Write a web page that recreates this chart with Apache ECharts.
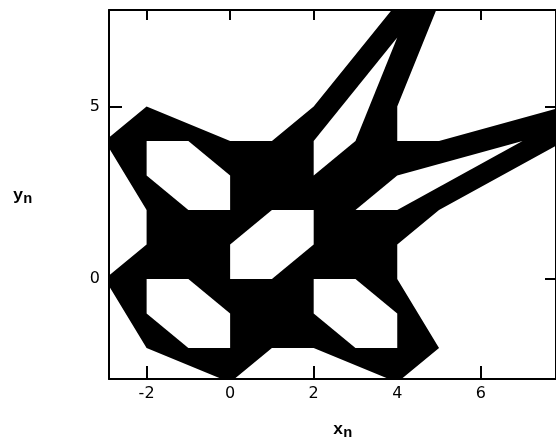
<!DOCTYPE html>
<html>
<head>
<meta charset="utf-8">
<script src="https://cdn.jsdelivr.net/npm/echarts@6/dist/echarts.min.js"></script>
<style>
  html, body { margin: 0; padding: 0; background: #fff; }
  #chart { width: 556px; height: 440px; }
</style>
</head>
<body>
<div id="chart"></div>
<script>
// Orbit region of the map (x_n, y_n): the filled region and the islands it never visits.
const outerBoundary = [
  [0, -3], [1, -2], [2, -2], [4, -3], [5, -2], [4, 0], [4, 1], [5, 2], [8, 4],
  [8, 5], [5, 4], [4, 4], [4, 5], [5, 8],
  [4, 8], [2, 5], [1, 4], [0, 4], [-2, 5], [-3, 4], [-2, 2], [-2, 1], [-3, 0],
  [-2, -2]
];
const islandCentre = [[0, 0], [0, 1], [1, 2], [2, 2], [2, 1], [1, 0]];
const islandUpperLeft = [[-2, 3], [-2, 4], [-1, 4], [0, 3], [0, 2], [-1, 2]];
const islandLowerLeft = [[-2, 0], [-1, 0], [0, -1], [0, -2], [-1, -2], [-2, -1]];
const islandLowerRight = [[3, -2], [4, -2], [4, -1], [3, 0], [2, 0], [2, -1]];
const islandUpperArm = [[2, 3], [3, 4], [4, 7], [2, 4]];
const islandRightArm = [[3, 2], [4, 3], [7, 4], [4, 2]];

const xTicks = [-2, 0, 2, 4, 6];
const yTicks = [0, 5];
const axisRange = { min: -2.9, max: 7.8 };

const shapes = [
  { pts: outerBoundary, fill: '#000' },
  { pts: islandCentre, fill: '#fff' },
  { pts: islandUpperLeft, fill: '#fff' },
  { pts: islandLowerLeft, fill: '#fff' },
  { pts: islandLowerRight, fill: '#fff' },
  { pts: islandUpperArm, fill: '#fff' },
  { pts: islandRightArm, fill: '#fff' }
];

const chart = echarts.init(document.getElementById('chart'), null, { renderer: 'canvas' });

const lineStyle = { color: '#000', width: 2 };
const labelFont = { color: '#000', fontSize: 16, fontFamily: 'DejaVu Sans' };

function xAxisCfg(pos, showLabels, tickLen) {
  return {
    type: 'value', position: pos, min: axisRange.min, max: axisRange.max,
    axisLine: { show: true, onZero: false, lineStyle },
    axisTick: { show: true, inside: true, length: tickLen, lineStyle, customValues: xTicks },
    axisLabel: { show: showLabels, margin: 7, customValues: xTicks, ...labelFont },
    splitLine: { show: false }
  };
}
function yAxisCfg(pos, showLabels, tickLen) {
  return {
    type: 'value', position: pos, min: axisRange.min, max: axisRange.max,
    axisLine: { show: true, onZero: false, lineStyle },
    axisTick: { show: true, inside: true, length: tickLen, lineStyle, customValues: yTicks },
    axisLabel: { show: showLabels, margin: 9, customValues: yTicks, ...labelFont },
    splitLine: { show: false }
  };
}

chart.setOption({
  animation: false,
  backgroundColor: '#fff',
  grid: { left: 109, top: 10, width: 451, height: 369 },
  xAxis: [xAxisCfg('bottom', true, 13), xAxisCfg('top', false, 10)],
  yAxis: [yAxisCfg('left', true, 13), yAxisCfg('right', false, 11)],
  series: shapes.map((s, i) => ({
    type: 'custom',
    coordinateSystem: 'cartesian2d',
    xAxisIndex: 0,
    yAxisIndex: 0,
    clip: true,
    z: 1 + i,
    silent: true,
    data: s.pts,
    renderItem: (params, api) => {
      if (params.dataIndex !== 0) return;
      return {
        type: 'polygon',
        shape: { points: s.pts.map(p => api.coord(p)) },
        style: { fill: s.fill, stroke: null }
      };
    }
  })),
  graphic: [
    {
      type: 'text', left: 333, top: 421, z: 100,
      style: {
        text: '{x|x}{n|n}',
        rich: {
          x: { fontFamily: 'Liberation Mono', fontWeight: 'bold', fontSize: 17, fill: '#000' },
          n: { fontFamily: 'Liberation Mono', fontWeight: 'bold', fontSize: 15, fill: '#000', padding: [8, 0, 0, 0] }
        }
      }
    },
    {
      type: 'text', left: 13, top: 187, z: 100,
      style: {
        text: '{y|y}{n|n}',
        rich: {
          y: { fontFamily: 'Liberation Mono', fontWeight: 'bold', fontSize: 17, fill: '#000' },
          n: { fontFamily: 'Liberation Mono', fontWeight: 'bold', fontSize: 15, fill: '#000', padding: [8, 0, 0, 0] }
        }
      }
    }
  ]
});
</script>
</body>
</html>
